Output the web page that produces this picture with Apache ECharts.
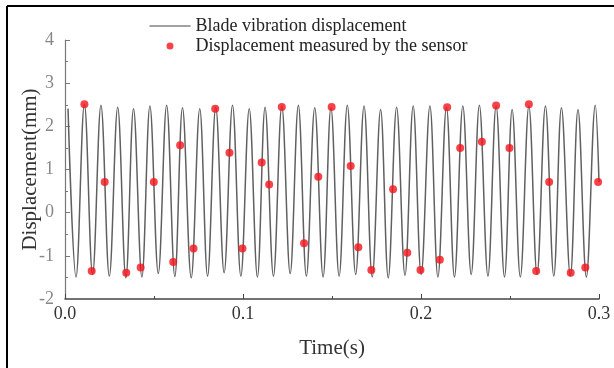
<!DOCTYPE html>
<html>
<head>
<meta charset="utf-8">
<script src="https://cdn.jsdelivr.net/npm/echarts@6/dist/echarts.min.js"></script>
<style>
  html, body { margin: 0; padding: 0; background: #fff; }
  #chart { width: 614px; height: 368px; }
</style>
</head>
<body>
<div id="chart"></div>
<script>
// blade vibration curve: peaks / troughs (s, mm)
const lineTime = [0.0017, 0.0062, 0.0109, 0.0155, 0.0202, 0.0249, 0.0296, 0.0342, 0.0385, 0.0432,
  0.0477, 0.0524, 0.0571, 0.0617, 0.0660, 0.0709, 0.0757, 0.0801, 0.0847, 0.0894,
  0.0941, 0.0988, 0.1035, 0.1081, 0.1124, 0.1171, 0.1218, 0.1265, 0.1311, 0.1356,
  0.1403, 0.1450, 0.1494, 0.1540, 0.1586, 0.1633, 0.1680, 0.1726, 0.1773, 0.1816,
  0.1863, 0.1910, 0.1956, 0.2001, 0.2050, 0.2095, 0.2143, 0.2188, 0.2235, 0.2282,
  0.2328, 0.2376, 0.2422, 0.2469, 0.2512, 0.2558, 0.2606, 0.2652, 0.2699, 0.2746,
  0.2789, 0.2839, 0.2882, 0.2929, 0.2979, 0.3000];
const lineValue = [2.41, -1.49, 2.51, -1.43, 2.49, -1.47, 2.44, -1.51, 2.41, -1.49,
  2.47, -1.41, 2.49, -1.48, 2.43, -1.51, 2.41, -1.47, 2.44, -1.39,
  2.49, -1.47, 2.41, -1.49, 2.44, -1.47, 2.47, -1.41, 2.49, -1.47,
  2.43, -1.49, 2.43, -1.47, 2.49, -1.43, 2.47, -1.49, 2.39, -1.51,
  2.44, -1.45, 2.47, -1.43, 2.47, -1.49, 2.44, -1.49, 2.47, -1.43,
  2.49, -1.47, 2.47, -1.49, 2.39, -1.49, 2.47, -1.43, 2.47, -1.47,
  2.43, -1.47, 2.39, -1.49, 2.49, 0.71];

// sensor samples (s, mm)
const sensorTime = [0.0109, 0.0150, 0.0223, 0.0344, 0.0425, 0.0499, 0.0608, 0.0647, 0.0722,
  0.0844, 0.0924, 0.0997, 0.1105, 0.1147, 0.1218, 0.1343, 0.1423, 0.1498, 0.1605, 0.1648,
  0.1721, 0.1843, 0.1923, 0.1997, 0.2106, 0.2147, 0.2220, 0.2342, 0.2422, 0.2497, 0.2606,
  0.2647, 0.2720, 0.2841, 0.2923, 0.2995];
const sensorValue = [2.51, -1.35, 0.71, -1.39, -1.27, 0.71, -1.14, 1.56, -0.83,
  2.41, 1.39, -0.83, 1.16, 0.65, 2.45, -0.71, 0.83, 2.45, 1.08, -0.80,
  -1.33, 0.54, -0.93, -1.33, -1.09, 2.44, 1.50, 1.64, 2.48, 1.50, 2.51,
  -1.35, 0.71, -1.39, -1.27, 0.71];

const seriesNames = ["Blade vibration displacement", "Displacement measured by the sensor"];

const font = "Liberation Serif";

const myChart = echarts.init(document.getElementById("chart"));
myChart.setOption({
  animation: false,
  backgroundColor: "#fff",
  grid: {
    left: 65,
    right: 15,
    top: 40,
    bottom: 69,
  },
  legend: {
    orient: "vertical",
    left: 149,
    top: 17,
    padding: 0,
    itemWidth: 41,
    itemHeight: 7,
    itemGap: 2,
    textStyle: { fontFamily: font, fontSize: 18, color: "#222", lineHeight: 18 },
    data: [
      // line only, no marker in the middle
      { name: seriesNames[0], itemStyle: { opacity: 0 }, lineStyle: { width: 1, color: "#444" } },
      { name: seriesNames[1], icon: "circle" },
    ],
  },
  xAxis: {
    type: "value",
    min: 0,
    max: 0.3,
    interval: 0.1,
    name: "Time(s)",
    nameLocation: "middle",
    nameGap: 39,
    nameTextStyle: { fontFamily: font, fontSize: 21, color: "#333" },
    axisLine: { onZero: false, lineStyle: { color: "#444", width: 1.5 } },
    axisTick: { inside: true, length: 5, lineStyle: { color: "#444" } },
    minorTick: { show: true, splitNumber: 2, length: 3, lineStyle: { color: "#444" } },
    splitLine: { show: false },
    axisLabel: {
      fontFamily: font,
      fontSize: 18,
      color: "#333",
      margin: 6,
      formatter: (v) => v.toFixed(1),
    },
  },
  yAxis: {
    type: "value",
    min: -2,
    max: 4,
    interval: 1,
    name: "Displacement(mm)",
    nameLocation: "middle",
    nameGap: 24,
    nameMoveOverlap: false,
    nameTextStyle: { fontFamily: font, fontSize: 21, color: "#333" },
    axisLine: { show: true, onZero: false, lineStyle: { color: "#777", width: 1.2 } },
    axisTick: { show: true, inside: true, length: 5, lineStyle: { color: "#777" } },
    minorTick: { show: true, splitNumber: 2, length: 3, lineStyle: { color: "#777" } },
    splitLine: { show: false },
    axisLabel: { fontFamily: font, fontSize: 18, color: "#888", margin: 11 },
  },
  series: [
    {
      name: seriesNames[0],
      type: "line",
      data: lineTime.map((t, i) => [t, lineValue[i]]),
      smooth: 0.38,
      symbol: "none",
      lineStyle: { color: "#606060", width: 1.5 },
      itemStyle: { color: "#606060" },
      z: 2,
    },
    {
      name: seriesNames[1],
      type: "scatter",
      data: sensorTime.map((t, i) => [t, sensorValue[i]]),
      symbol: "circle",
      symbolSize: 8,
      itemStyle: { color: "#f4141c" },
      z: 3,
    },
  ],
  // frame lines along the top and left of the figure
  graphic: [
    { type: "line", shape: { x1: 7, y1: 6, x2: 614, y2: 6 }, style: { stroke: "#000", lineWidth: 2 } },
    { type: "line", shape: { x1: 7, y1: 6, x2: 7, y2: 368 }, style: { stroke: "#000", lineWidth: 2 } },
  ],
});
</script>
</body>
</html>
